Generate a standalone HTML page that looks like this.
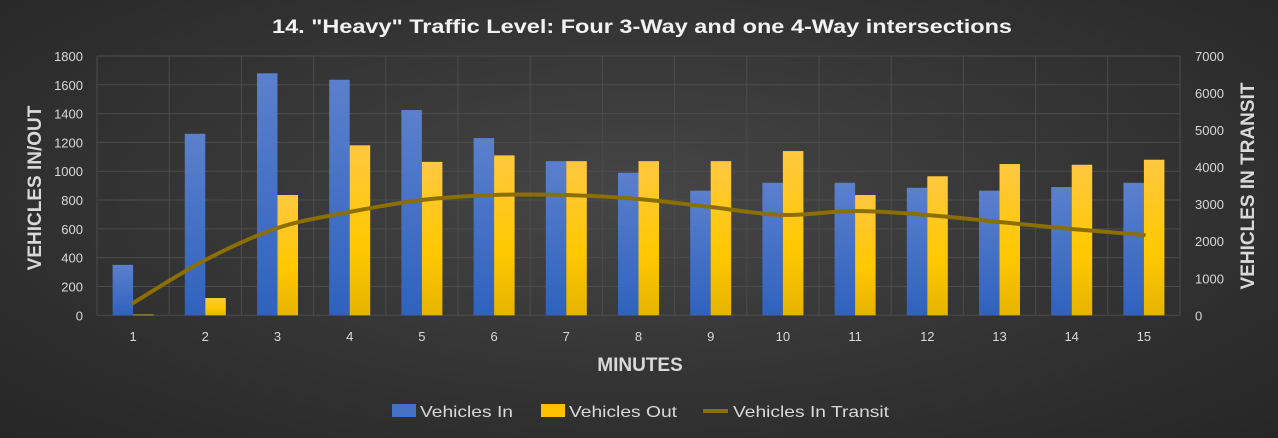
<!DOCTYPE html>
<html><head><meta charset="utf-8"><style>
html,body{margin:0;padding:0}
body{width:1278px;height:438px;overflow:hidden;background:radial-gradient(ellipse at 50% 45%,#464646 0%,#353535 50%,#262626 100%);font-family:"Liberation Sans",sans-serif}
</style></head><body>
<svg id="s" width="1278" height="438" xmlns="http://www.w3.org/2000/svg" style="position:absolute;left:0;top:0">
<defs>
<linearGradient id="gb" x1="0" y1="0" x2="0" y2="1"><stop offset="0" stop-color="#5b80cc"/><stop offset="1" stop-color="#2f62be"/></linearGradient>
<linearGradient id="gy" x1="0" y1="0" x2="0" y2="1"><stop offset="0" stop-color="#ffc840"/><stop offset="0.6" stop-color="#ffc800"/><stop offset="1" stop-color="#e6b400"/></linearGradient>
</defs>
<g id="g"></g>
<text x="272" y="33" fill="#f2f2f2" font-size="19" font-weight="bold" textLength="740" lengthAdjust="spacingAndGlyphs">14. "Heavy" Traffic Level: Four 3-Way and one 4-Way intersections</text>
<text x="640" y="371" fill="#d9d9d9" font-size="19" font-weight="bold" text-anchor="middle">MINUTES</text>
<text transform="translate(41,188) rotate(-90)" fill="#d9d9d9" font-size="19" font-weight="bold" text-anchor="middle">VEHICLES IN/OUT</text>
<text transform="translate(1254,186) rotate(-90)" fill="#d9d9d9" font-size="19" font-weight="bold" text-anchor="middle">VEHICLES IN TRANSIT</text>
<rect x="392" y="404" width="24" height="13" fill="#4472c4"/>
<text x="420" y="417" fill="#d9d9d9" font-size="16" textLength="93" lengthAdjust="spacingAndGlyphs">Vehicles In</text>
<rect x="541" y="404" width="24" height="13" fill="#ffc000"/>
<text x="569" y="417" fill="#d9d9d9" font-size="16" textLength="108" lengthAdjust="spacingAndGlyphs">Vehicles Out</text>
<line x1="703" y1="411" x2="728" y2="411" stroke="#8b6f00" stroke-width="4"/>
<text x="733" y="417" fill="#d9d9d9" font-size="16" textLength="156" lengthAdjust="spacingAndGlyphs">Vehicles In Transit</text>
</svg>
<script>
var g=document.getElementById('g'),h='';
var L=97,R=1180,T=56,B=315.3,cw=(R-L)/15;
function Y(v){return B-(B-T)*v/1800}
for(var i=0;i<=9;i++){var y=Y(i*200);h+='<line x1="'+L+'" x2="'+R+'" y1="'+y+'" y2="'+y+'" stroke="#4c4c4c" stroke-width="1"/>';
h+='<text x="83" y="'+(y+5)+'" fill="#d9d9d9" font-size="13" text-anchor="end">'+(i*200)+'</text>';
var yr=B-(B-T)*i/7; if(i<=7)h+='<text x="1195" y="'+(yr+5)+'" fill="#d9d9d9" font-size="13">'+(i*1000)+'</text>';}
for(var k=0;k<=15;k++){var x=L+cw*k;h+='<line x1="'+x+'" x2="'+x+'" y1="'+T+'" y2="'+B+'" stroke="#4c4c4c" stroke-width="1"/>';}
var bi=[350,1260,1680,1635,1425,1230,1070,990,865,920,920,885,865,890,920];
var bo=[5,120,835,1180,1065,1110,1070,1070,1070,1140,835,965,1050,1045,1080];
var ly=[303,260,228,212,200,195,195,199,207,215,211,215,222,229,235];
var pts=[];
for(var k=0;k<15;k++){var c=L+cw*(k+0.5);
h+='<rect x="'+(c-20.5)+'" y="'+Y(bi[k])+'" width="20.5" height="'+(B-Y(bi[k]))+'" fill="url(#gb)"/>';
h+='<rect x="'+c+'" y="'+Y(bo[k])+'" width="20.5" height="'+(B-Y(bo[k]))+'" fill="url(#gy)"/>';
h+='<text x="'+c+'" y="341" fill="#d9d9d9" font-size="13" text-anchor="middle">'+(k+1)+'</text>';
pts.push([c,ly[k]]);}
var d='M'+pts[0][0]+','+pts[0][1];
for(var i=0;i<pts.length-1;i++){var p0=pts[Math.max(0,i-1)],p1=pts[i],p2=pts[i+1],p3=pts[Math.min(pts.length-1,i+2)];
d+=' C'+(p1[0]+(p2[0]-p0[0])/6)+','+(p1[1]+(p2[1]-p0[1])/6)+' '+(p2[0]-(p3[0]-p1[0])/6)+','+(p2[1]-(p3[1]-p1[1])/6)+' '+p2[0]+','+p2[1];}
h+='<path d="'+d+'" fill="none" stroke="#8b6f00" stroke-width="4" stroke-linecap="round"/>';
g.innerHTML=h;
</script>
</body></html>
